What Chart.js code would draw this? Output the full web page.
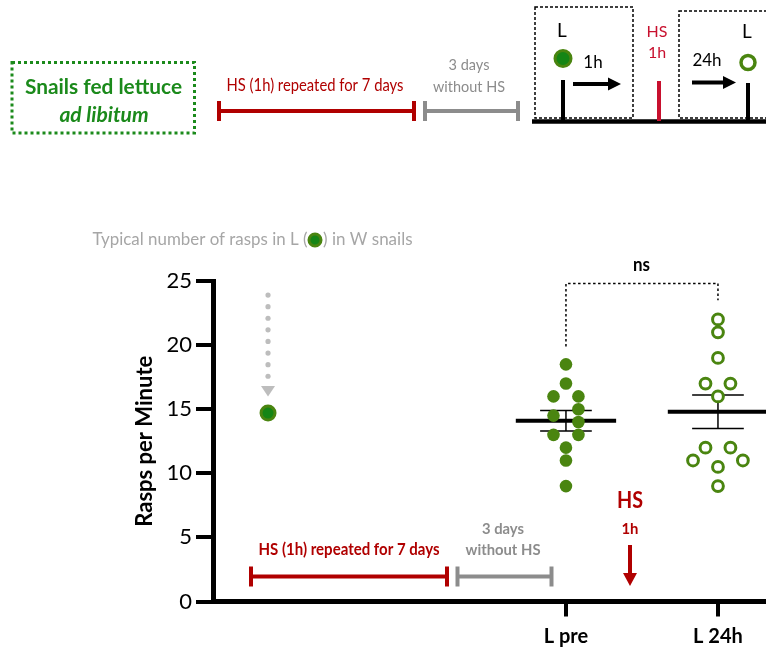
<!DOCTYPE html>
<html>
<head>
<meta charset="utf-8">
<title>Rasps per Minute</title>
<script src="https://cdn.jsdelivr.net/npm/chart.js@4.4.1/dist/chart.umd.min.js"></script>
<style>
  html, body { margin: 0; padding: 0; background: #fff; }
  #rasps-chart { display: block; width: 766px; height: 650px; }
</style>
</head>
<body>
<canvas id="rasps-chart" width="766" height="650"></canvas>
<script>
(function () {
  'use strict';

  // ===========================================================================
  // DATA
  // ===========================================================================

  const groupLabels = ['L pre', 'L 24h'];
  const groupPos = [1, 2];

  const lPreValues = [18.5, 17, 16, 16, 15, 14.5, 14, 13, 13, 12, 11, 9];
  const lPreSlots = [0, 0, -1, 1, 1, -1, 1, -1, 1, 0, 0, 0];

  const l24hValues = [22, 21, 19, 17, 17, 16, 12, 12, 11, 11, 10.5, 9];
  const l24hSlots = [0, 0, 0, -1, 1, 0, -1, 1, -2, 2, 0, 0];

  const groupMeans = [14.1, 14.8];
  const groupSems = [0.8, 1.3];

  const typicalPos = -0.96;
  const typicalValue = 14.7;

  const yTicks = [0, 5, 10, 15, 20, 25];

  // ===========================================================================
  // LAYOUT / STYLE
  // ===========================================================================

  const X_MIN = -1.322;
  const X_MAX = 2.316;
  const SWARM_STEP = 0.082;
  const MEAN_HALF = 0.33;
  const CAP_HALF = 0.17;

  const FONT = 'Lato, "Open Sans", sans-serif';
  const GREEN = '#4a8510';
  const GREEN_DARK = '#158515';
  const GREEN_TXT = '#1b8a1b';
  const RED = '#b00000';
  const CRIMSON = '#c8102e';
  const GRAY_TXT = '#8c8c8c';
  const GRAY_BAR = '#8c8c8c';
  const CAPTION_GRAY = '#a6a6a6';
  const ARROW_GRAY = '#bdbdbd';

  function swarm(values, slots, pos) {
    return values.map((v, i) => ({ x: pos + slots[i] * SWARM_STEP, y: v }));
  }

  function meanLine(i) {
    const p = groupPos[i];
    return [{ x: p - MEAN_HALF, y: groupMeans[i] }, { x: p + MEAN_HALF, y: groupMeans[i] }];
  }

  function semBars(i) {
    const p = groupPos[i];
    const hi = groupMeans[i] + groupSems[i];
    const lo = groupMeans[i] - groupSems[i];
    return [
      { x: p - CAP_HALF, y: hi }, { x: p + CAP_HALF, y: hi }, { x: p, y: null },
      { x: p, y: hi }, { x: p, y: lo }, { x: p, y: null },
      { x: p - CAP_HALF, y: lo }, { x: p + CAP_HALF, y: lo },
    ];
  }

  // ===========================================================================
  // DRAW HELPERS
  // ===========================================================================

  function text(ctx, str, x, y, font, color, maxW, align) {
    ctx.font = font;
    ctx.fillStyle = color;
    ctx.textAlign = align || 'center';
    ctx.textBaseline = 'middle';
    if (maxW) ctx.fillText(str, x, y, maxW);
    else ctx.fillText(str, x, y);
  }

  function seg(ctx, x1, y1, x2, y2, color, w, dash) {
    ctx.beginPath();
    ctx.setLineDash(dash || []);
    ctx.strokeStyle = color;
    ctx.lineWidth = w;
    ctx.moveTo(x1, y1);
    ctx.lineTo(x2, y2);
    ctx.stroke();
    ctx.setLineDash([]);
  }

  function capBar(ctx, x1, x2, y, color) {
    seg(ctx, x1, y, x2, y, color, 4);
    seg(ctx, x1, y - 10, x1, y + 10, color, 4);
    seg(ctx, x2, y - 10, x2, y + 10, color, 4);
  }

  function tri(ctx, pts, color) {
    ctx.beginPath();
    ctx.moveTo(pts[0], pts[1]);
    ctx.lineTo(pts[2], pts[3]);
    ctx.lineTo(pts[4], pts[5]);
    ctx.closePath();
    ctx.fillStyle = color;
    ctx.fill();
  }

  function arrowRight(ctx, x1, x2, y) {
    seg(ctx, x1, y, x2 - 10, y, '#000', 4);
    tri(ctx, [x2 - 13, y - 6.5, x2 - 13, y + 6.5, x2, y], '#000');
  }

  function dot(ctx, x, y, r, fill, stroke, lw) {
    ctx.beginPath();
    ctx.arc(x, y, r, 0, Math.PI * 2);
    if (fill) { ctx.fillStyle = fill; ctx.fill(); }
    if (stroke) { ctx.strokeStyle = stroke; ctx.lineWidth = lw; ctx.stroke(); }
  }

  function dashedRect(ctx, x1, y1, x2, y2, color, lw, dash) {
    ctx.beginPath();
    ctx.setLineDash(dash);
    ctx.strokeStyle = color;
    ctx.lineWidth = lw;
    ctx.strokeRect(x1, y1, x2 - x1, y2 - y1);
    ctx.setLineDash([]);
  }

  // ===========================================================================
  // ANNOTATIONS
  // ===========================================================================

  function drawSchematic(ctx) {
    // Feeding box.
    dashedRect(ctx, 12, 62.5, 194.5, 133, GREEN_TXT, 3, [3, 3]);
    text(ctx, 'Snails fed lettuce', 103.5, 87, 'bold 21px ' + FONT, GREEN_TXT, 157);
    text(ctx, 'ad libitum', 104, 115, 'italic bold 21px ' + FONT, GREEN_TXT, 95);

    // Heat-shock training + rest.
    text(ctx, 'HS (1h) repeated for 7 days', 315, 86, '17px ' + FONT, RED, 177);
    capBar(ctx, 219, 414, 111, RED);
    text(ctx, '3 days', 469, 65, '16px ' + FONT, GRAY_TXT, 41);
    text(ctx, 'without HS', 469, 86.5, '16px ' + FONT, GRAY_TXT, 72);
    capBar(ctx, 425, 518, 111, GRAY_BAR);

    // Test protocol.
    dashedRect(ctx, 535, 7, 633, 118, '#000', 1.5, [3, 2]);
    dashedRect(ctx, 679, 11, 790, 118, '#000', 1.5, [3, 2]);
    seg(ctx, 532, 121.5, 766, 121.5, '#000', 4.5);

    text(ctx, 'L', 562, 31, '19px ' + FONT, '#000');
    dot(ctx, 563, 58.5, 8, GREEN_DARK, GREEN, 3);
    seg(ctx, 563, 80, 563, 121, '#000', 4);
    arrowRight(ctx, 573, 621, 84);
    text(ctx, '1h', 593, 63, '17px ' + FONT, '#000');

    text(ctx, 'HS', 657, 32, '16px ' + FONT, CRIMSON);
    text(ctx, '1h', 657, 53, '16px ' + FONT, CRIMSON);
    seg(ctx, 659, 81, 659, 121, CRIMSON, 4);

    text(ctx, '24h', 707, 61, '17px ' + FONT, '#000');
    arrowRight(ctx, 692, 736, 82.5);
    text(ctx, 'L', 747, 32, '19px ' + FONT, '#000');
    dot(ctx, 748, 62.5, 7, '#fff', GREEN, 3.5);
    seg(ctx, 748, 83, 748, 121, '#000', 4);
  }

  function drawCaption(ctx) {
    text(ctx, 'Typical number of rasps in L (', 92.5, 240, '17px ' + FONT, CAPTION_GRAY, 215, 'left');
    dot(ctx, 315, 240, 6, GREEN_DARK, GREEN, 3);
    text(ctx, ') in W snails', 323, 240, '17px ' + FONT, CAPTION_GRAY, 90, 'left');
  }

  function drawTypicalArrow(ctx, xs, ys) {
    const px = xs.getPixelForValue(typicalPos);
    const tip = ys.getPixelForValue(typicalValue) - 16.5;
    for (let i = 0; i < 8; i++) {
      dot(ctx, px, tip - 101.5 + i * 11.6, 2.6, ARROW_GRAY);
    }
    tri(ctx, [px - 7, tip - 10.5, px + 7, tip - 10.5, px, tip], ARROW_GRAY);
  }

  function drawTimeline(ctx) {
    text(ctx, 'HS (1h) repeated for 7 days', 349, 550, 'bold 17px ' + FONT, RED, 181);
    capBar(ctx, 251, 447, 576.5, RED);
    text(ctx, '3 days', 503, 529, 'bold 16px ' + FONT, GRAY_TXT, 42);
    text(ctx, 'without HS', 503, 550, 'bold 16px ' + FONT, GRAY_TXT, 75);
    capBar(ctx, 457.5, 551.5, 576.5, GRAY_BAR);

    text(ctx, 'HS', 630, 500.5, 'bold 23px ' + FONT, RED, 26);
    text(ctx, '1h', 630, 529, 'bold 16px ' + FONT, RED, 17);
    seg(ctx, 630, 545, 630, 575, RED, 4);
    tri(ctx, [623, 573, 637, 573, 630, 586], RED);
  }

  function drawBracket(ctx, xs, ys) {
    const xa = xs.getPixelForValue(groupPos[0]);
    const xb = xs.getPixelForValue(groupPos[1]);
    const top = 283.5;
    ctx.beginPath();
    ctx.setLineDash([2.5, 2.5]);
    ctx.strokeStyle = '#000';
    ctx.lineWidth = 1.5;
    ctx.moveTo(xa, ys.getPixelForValue(19.9));
    ctx.lineTo(xa, top);
    ctx.lineTo(xb, top);
    ctx.lineTo(xb, ys.getPixelForValue(23.5));
    ctx.stroke();
    ctx.setLineDash([]);
    text(ctx, 'ns', 641.5, 265, 'bold 18px ' + FONT, '#000', 17);
  }

  const annotations = {
    id: 'snailAnnotations',
    afterDraw(chart) {
      const ctx = chart.ctx;
      const xs = chart.scales.x;
      const ys = chart.scales.y;
      ctx.save();
      drawSchematic(ctx);
      drawCaption(ctx);
      drawTypicalArrow(ctx, xs, ys);
      drawTimeline(ctx);
      drawBracket(ctx, xs, ys);
      ctx.restore();
    },
  };

  // ===========================================================================
  // CHART
  // ===========================================================================

  const lineStyle = (width) => ({
    type: 'line',
    showLine: true,
    borderColor: '#000',
    borderWidth: width,
    pointRadius: 0,
    spanGaps: false,
    fill: false,
  });

  new Chart(document.getElementById('rasps-chart'), {
    type: 'scatter',
    data: {
      datasets: [
        Object.assign({ label: 'SEM L pre', data: semBars(0), order: 3 }, lineStyle(1.5)),
        Object.assign({ label: 'SEM L 24h', data: semBars(1), order: 3 }, lineStyle(1.5)),
        Object.assign({ label: 'Mean L pre', data: meanLine(0), order: 2 }, lineStyle(4)),
        Object.assign({ label: 'Mean L 24h', data: meanLine(1), order: 2 }, lineStyle(4)),
        {
          label: 'L pre',
          data: swarm(lPreValues, lPreSlots, groupPos[0]),
          backgroundColor: GREEN,
          borderColor: GREEN,
          borderWidth: 0,
          pointRadius: 6.3,
          order: 1,
        },
        {
          label: 'L 24h',
          data: swarm(l24hValues, l24hSlots, groupPos[1]),
          backgroundColor: '#fff',
          borderColor: GREEN,
          borderWidth: 3,
          pointRadius: 5.4,
          order: 1,
        },
        {
          label: 'Typical W',
          data: [{ x: typicalPos, y: typicalValue }],
          backgroundColor: GREEN_DARK,
          borderColor: GREEN,
          borderWidth: 3,
          pointRadius: 7,
          order: 1,
        },
      ],
    },
    options: {
      responsive: false,
      animation: false,
      events: [],
      layout: { autoPadding: false, padding: { top: 281, left: 0, right: 0, bottom: 0 } },
      plugins: {
        legend: { display: false },
        tooltip: { enabled: false },
      },
      scales: {
        x: {
          type: 'linear',
          min: X_MIN,
          max: X_MAX,
          afterBuildTicks: (s) => { s.ticks = groupPos.map(v => ({ value: v })); },
          afterFit: (s) => { s.height = 48.5; },
          ticks: {
            callback: (v, i) => groupLabels[i],
            font: { family: FONT, size: 20, weight: 'bold' },
            color: '#000',
            padding: 8,
            maxRotation: 0,
            autoSkip: false,
          },
          grid: { drawOnChartArea: false, tickLength: 15, tickWidth: 4, tickColor: '#000', color: '#000', lineWidth: 4 },
          border: { display: true, color: '#000', width: 5 },
        },
        y: {
          min: 0,
          max: 25,
          afterBuildTicks: (s) => { s.ticks = yTicks.map(v => ({ value: v })); },
          afterFit: (s) => { s.width = 213; },
          ticks: { font: { family: FONT, size: 22 }, color: '#000', padding: 4 },
          grid: { drawOnChartArea: false, tickLength: 17, tickWidth: 4, tickColor: '#000', color: '#000', lineWidth: 4 },
          border: { display: true, color: '#000', width: 5 },
          title: {
            display: true,
            text: 'Rasps per Minute',
            font: { family: FONT, size: 22, weight: 'bold' },
            color: '#000',
            padding: { top: 132, bottom: 0 },
          },
        },
      },
    },
    plugins: [annotations],
  });
})();
</script>
</body>
</html>
